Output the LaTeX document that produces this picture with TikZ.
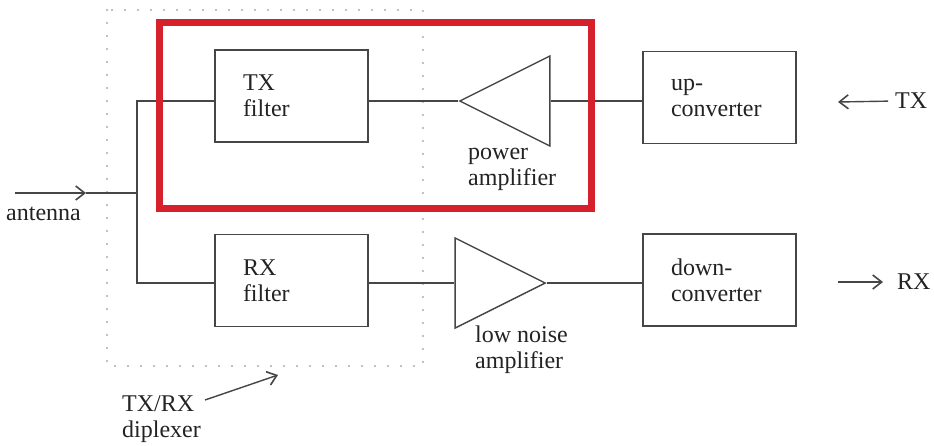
\documentclass[tikz,border=0pt]{standalone}
\usepackage{fontspec}
\setmainfont{Liberation Serif}
\usetikzlibrary{arrows.meta,positioning,shapes.geometric}
\definecolor{wiregray}{RGB}{70,70,70}
\definecolor{inkgray}{RGB}{35,35,35}
\definecolor{markred}{RGB}{214,32,44}
\newcommand{\lblfont}{\fontsize{24}{26}\selectfont}
\tikzset{
 blockbox/.style={
 rectangle,
 draw=wiregray,
 line width=1.4pt,
 text=inkgray,
 align=left,
 text width=97pt,
 inner xsep=28pt,
 inner ysep=0pt,
 minimum height=92pt,
 font=\lblfont
 },
 ampshape/.style={
 isosceles triangle,
 isosceles triangle stretches,
 draw=wiregray,
 line width=1.4pt,
 minimum width=90pt,
 minimum height=90pt,
 inner sep=0pt
 },
 caption/.style={align=left, inner sep=0pt, text=inkgray, font=\lblfont},
 wire/.style={draw=wiregray, line width=1.4pt},
 sigarrow/.style={wire, -{Straight Barb[length=9pt, width=14pt, line width=1.6pt]}},
 dotbox/.style={draw=gray!65, line width=2.4pt, line cap=round, dash pattern=on 0pt off 13pt},
 focusbox/.style={draw=markred, line width=7pt}
}

\begin{document}
\begin{tikzpicture}[x=1pt, y=-1pt]
 \fill[white] (0,0) rectangle (934,445);
 \useasboundingbox (0,0) rectangle (934,445);

 % diplexer outline
 \draw[dotbox] (107,10) rectangle (423,366);

 \node[blockbox] (txf) at (291.5,96) {TX\\filter};
 \node[blockbox] (rxf) at (291.5,280.5) {RX\\filter};
 \node[blockbox] (upc) at (719.5,97.5) {up-\\converter};
 \node[blockbox] (dnc) at (719.5,280) {down-\\converter};
 \node[ampshape, shape border rotate=180, anchor=apex] (pa) at (458,101) {};
 \node[ampshape, anchor=apex] (lna) at (547,283) {};

 \node[caption, anchor=north west] (palbl) at (468,148) {power\\amplifier};
 \node[caption, anchor=north west] (lnalbl) at (475,326) {low noise\\amplifier};
 \node[caption, anchor=base west] (antlbl) at (6,220) {antenna};
 \node[caption, anchor=west] (txlbl) at (895,101) {TX};
 \node[caption, anchor=west] (rxlbl) at (897,282) {RX};
 \node[caption, anchor=north west] (dpxlbl) at (122,395) {TX/RX\\diplexer};

 \coordinate (ant) at (15,193);
 \coordinate (antmid) at (86,193);
 \coordinate (junc) at (137,193);
 \coordinate (txend) at (838,102);
 \coordinate (rxstart) at (838,282);
 \coordinate (dpxtail) at (205,400);
 \coordinate (dpxtip) at (278,375);

 \draw[sigarrow] (ant) -- (antmid);
 \draw[wire] (antmid) -- (junc);
 \draw[wire] (pa.apex -| txf.west) -| (junc) |- (lna.apex -| rxf.west);
 \draw[wire] (txf.east |- pa.apex) -- (pa.apex);
 \draw[wire] (pa.lower side) -- (pa.apex -| upc.west);
 \draw[wire] (rxf.east |- lna.apex) -- (lna.lower side);
 \draw[wire] (lna.apex) -- (lna.apex -| dnc.west);
 \draw[sigarrow, shorten <=7pt] (txlbl.west) -- (txend);
 \draw[sigarrow, shorten >=14pt] (rxstart) -- (rxlbl.west);
 \draw[sigarrow] (dpxtail) -- (dpxtip);

 % highlighted transmit chain
 \draw[focusbox] (159,22) rectangle (591,208);
\end{tikzpicture}
\end{document}
